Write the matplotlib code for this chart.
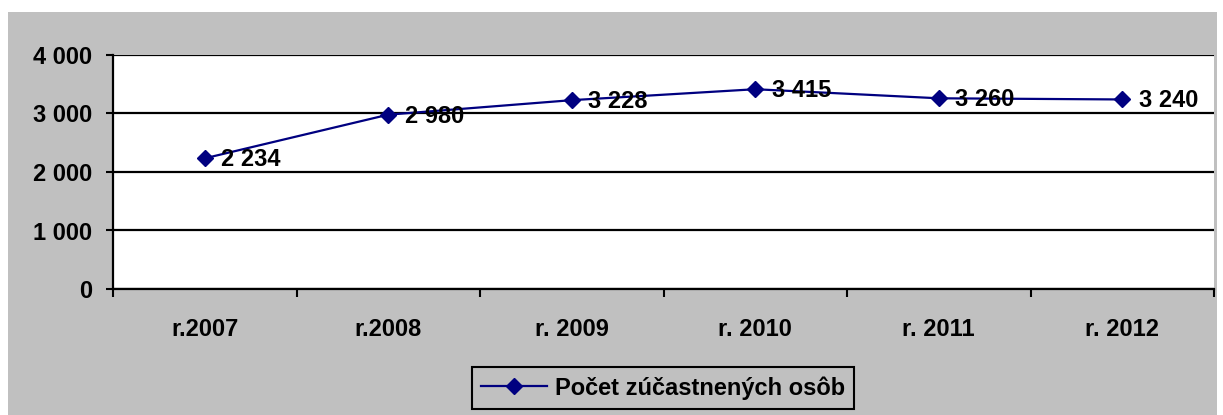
import matplotlib.pyplot as plt
from matplotlib.patches import Rectangle
from matplotlib.ticker import FuncFormatter

plt.rcParams['font.family'] = ['Liberation Sans', 'DejaVu Sans']
plt.rcParams['font.weight'] = 'bold'

years = ['r.2007', 'r.2008', 'r. 2009', 'r. 2010', 'r. 2011', 'r. 2012']
persons = [2234, 2980, 3228, 3415, 3260, 3240]
series_name = 'Počet zúčastnených osôb'
yticks = [0, 1000, 2000, 3000, 4000]

gray = '#c0c0c0'
navy = '#000080'


def fmt(v, pos=None):
    return '{:,}'.format(int(v)).replace(',', ' ')


fig = plt.figure(figsize=(12.23, 4.15), dpi=100)
fig.patch.set_facecolor('white')
# gray chart area
fig.patches.append(Rectangle((8 / 1223, 0), 1209 / 1223, 403 / 415,
                             transform=fig.transFigure, facecolor=gray,
                             edgecolor='none', zorder=-5))

ax = fig.add_axes([113 / 1223, 1 - 289 / 415, 1101 / 1223, 234 / 415])
ax.set_facecolor('white')

x = list(range(len(years)))
line, = ax.plot(x, persons, color=navy, lw=1.6, marker='D', ms=8,
                markerfacecolor=navy, markeredgecolor=navy, label=series_name,
                zorder=3)

for xi, v in zip(x, persons):
    ax.annotate(fmt(v), (xi, v), xytext=(12, -1), textcoords='offset points',
                ha='left', va='center', fontsize=17, fontweight='bold', zorder=4)

ax.set_xlim(-0.5, len(years) - 0.5)
ax.set_ylim(0, 4000)
ax.set_yticks(yticks)
ax.yaxis.set_major_formatter(FuncFormatter(fmt))
ax.grid(axis='y', color='black', lw=1.6, zorder=1)
ax.set_axisbelow(True)

ax.set_xticks([i - 0.5 for i in range(len(years) + 1)])
ax.set_xticklabels([])
ax.set_xticks(x, minor=True)
ax.set_xticklabels(years, minor=True)
ax.tick_params(axis='x', which='major', length=6, width=1.5, direction='out')
ax.tick_params(axis='x', which='minor', length=0, pad=21, labelsize=17)
ax.tick_params(axis='y', length=5, width=1.5, pad=10, labelsize=17)

for s in ['top', 'right']:
    ax.spines[s].set_visible(False)
for s in ['left', 'bottom']:
    ax.spines[s].set_linewidth(1.6)
    ax.spines[s].set_color('black')

leg = fig.legend(handles=[line], loc='center',
                 bbox_to_anchor=(663 / 1223, 1 - 388 / 415),
                 frameon=True, fancybox=False, fontsize=17, handlelength=2.8,
                 borderpad=0.4, handletextpad=0.3, borderaxespad=0)
leg.get_frame().set_facecolor(gray)
leg.get_frame().set_edgecolor('black')
leg.get_frame().set_linewidth(1.5)
leg.get_frame().set_alpha(1)

fig.savefig('out.png', dpi=100, facecolor='white')
